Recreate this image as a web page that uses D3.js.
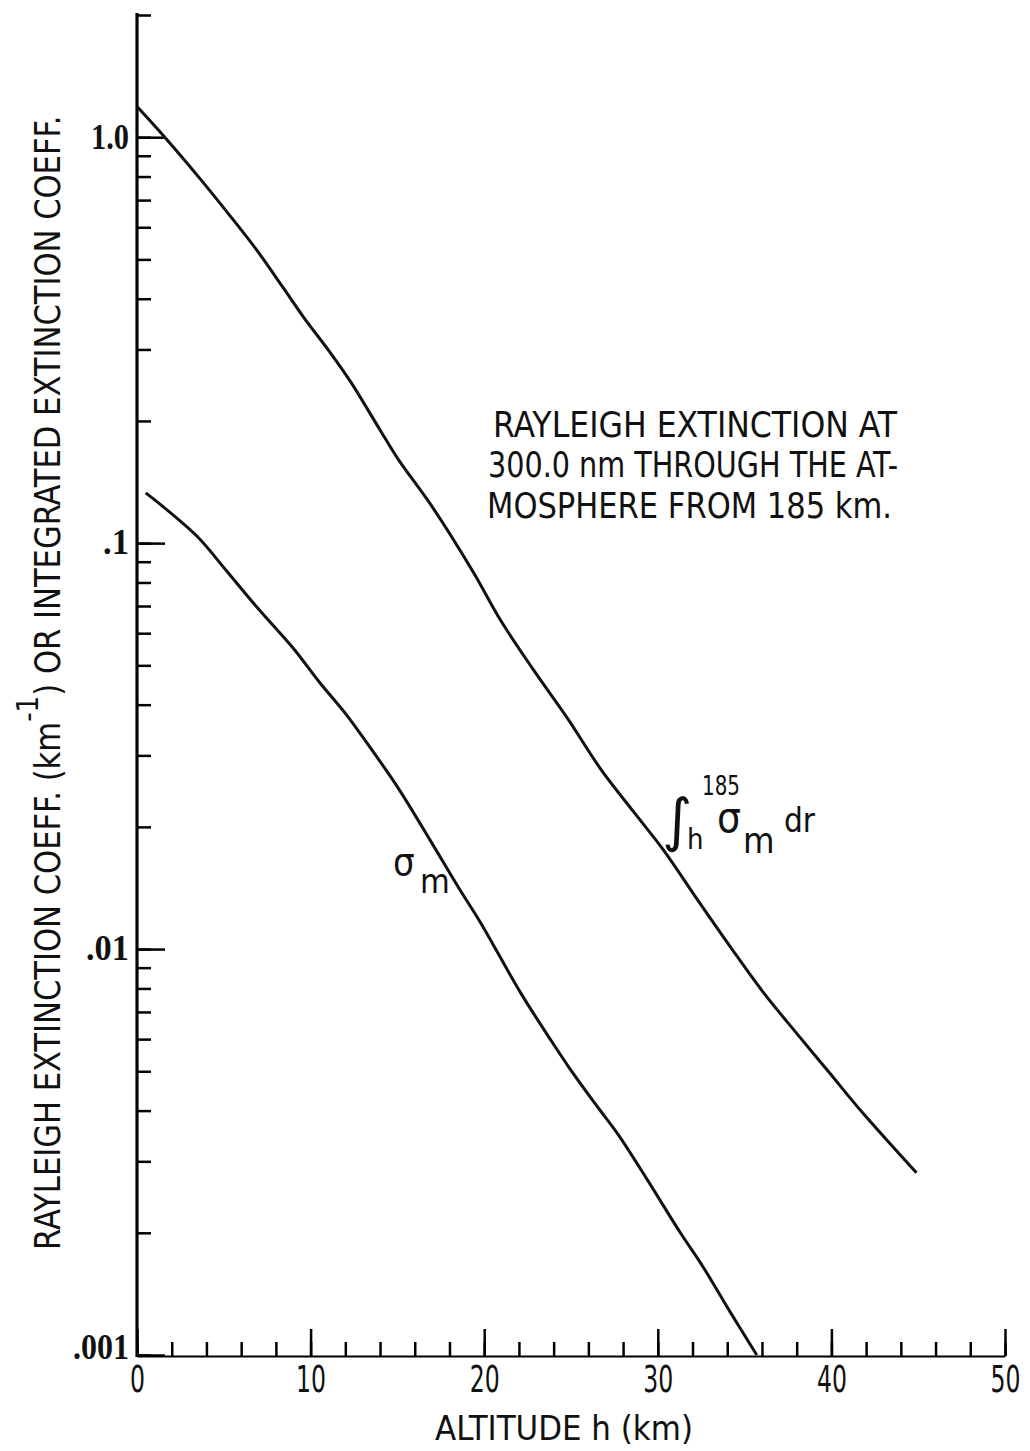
<!DOCTYPE html>
<html>
<head>
<meta charset="utf-8">
<script src="https://cdn.jsdelivr.net/npm/d3@7"></script>
<style>
body { margin: 0; background: #fff; }
text { font-family: "Liberation Sans Narrow", "DejaVu Sans Condensed", "Roboto Condensed", sans-serif; fill: #111; }
</style>
</head>
<body>
<svg width="1030" height="1451"></svg>
<script>
// integrated extinction coeff (upper curve)
var integralAlt = [0, 1.6, 3.7, 5.2, 6.9, 8.4, 9.6, 11.1, 12.3, 14.0, 15.0, 17.0, 19.4, 20.9, 22.8, 24.8, 26.7, 28.6, 30.3, 32.3, 34.2, 36.1, 38.0, 39.9, 41.8, 44.9];
var integralVal = [1.19, 1.0, 0.784, 0.653, 0.527, 0.427, 0.360, 0.296, 0.250, 0.190, 0.162, 0.123, 0.0844, 0.0650, 0.0490, 0.0370, 0.0278, 0.0218, 0.0176, 0.0132, 0.0101, 0.0078, 0.0062, 0.00495, 0.00395, 0.00281];

// rayleigh extinction coeff sigma_m (lower curve)
var sigmaAlt = [0.5, 1.5, 3.5, 5.2, 6.9, 9.0, 10.5, 12.1, 13.0, 15.0, 16.9, 18.6, 19.8, 22.1, 23.8, 24.9, 26.5, 27.7, 29.4, 31.3, 32.6, 34.2, 35.7];
var sigmaVal = [0.133, 0.123, 0.1035, 0.085, 0.0696, 0.0551, 0.0455, 0.0376, 0.0333, 0.0251, 0.0185, 0.0140, 0.0116, 0.0078, 0.0060, 0.0051, 0.0041, 0.00350, 0.0027, 0.0020, 0.00165, 0.00127, 0.001];

var yMajor = [1, 0.1, 0.01, 0.001];
var yTickLabels = ['1.0', '.1', '.01', '.001'];
var xMajor = [0, 10, 20, 30, 40, 50];
var noteLines = ['RAYLEIGH EXTINCTION AT', '300.0 nm THROUGH THE AT-', 'MOSPHERE FROM 185 km.'];

var svg = d3.select('svg');
var x = d3.scaleLinear().domain([0, 50]).range([137, 1005]);
var y = d3.scaleLog().domain([0.001, 2]).range([1355, 15]);

// y axis: minor ticks inside, longer decade ticks
var yMinor = d3.axisRight(y).tickValues(y.ticks()).tickSize(14).tickSizeOuter(0).tickFormat('');
var gy = svg.append('g').attr('transform', 'translate(137,0)').call(yMinor);
gy.select('.domain').attr('stroke-width', 3.2).attr('d', 'M0,13V1357');
gy.selectAll('.tick line').attr('stroke-width', 2.5);

var gyMaj = svg.append('g').attr('transform', 'translate(137,0)')
    .call(d3.axisRight(y).tickValues(yMajor).tickSize(28).tickFormat(''));
gyMaj.select('.domain').remove();
gyMaj.selectAll('.tick line').attr('stroke-width', 2.5);

var gyLab = svg.append('g').attr('transform', 'translate(137,0)')
    .call(d3.axisLeft(y).tickValues(yMajor).tickSize(0).tickPadding(8).tickFormat((d, i) => yTickLabels[i]));
gyLab.select('.domain').remove();
gyLab.selectAll('text')
    .style('font-family', '"Liberation Serif", "DejaVu Serif", serif')
    .style('font-size', '36px').style('font-weight', 'bold').attr('dy', (d, i) => i == 3 ? '0.1em' : '0.3em')
    .attr('textLength', (d, i) => [38, 26, 43, 56][i]).attr('lengthAdjust', 'spacingAndGlyphs');

// x axis: ticks pointing up
var gx = svg.append('g').attr('transform', 'translate(0,1356)')
    .call(d3.axisTop(x).ticks(25).tickSize(14).tickSizeOuter(0).tickFormat(''));
gx.select('.domain').attr('stroke-width', 2.2);
gx.selectAll('.tick line').attr('stroke-width', 2.5);

var gxMaj = svg.append('g').attr('transform', 'translate(0,1356)')
    .call(d3.axisTop(x).tickValues(xMajor).tickSize(27).tickFormat(''));
gxMaj.select('.domain').remove();
gxMaj.selectAll('.tick line').attr('stroke-width', 2.5);

var gxLab = svg.append('g').attr('transform', 'translate(0,1356)')
    .call(d3.axisBottom(x).tickValues(xMajor).tickSize(0).tickPadding(9).tickFormat(d3.format('d')));
gxLab.select('.domain').remove();
gxLab.selectAll('text').style('font-family', null).style('font-size', '38px')
    .attr('textLength', d => String(d).length * 15).attr('lengthAdjust', 'spacingAndGlyphs');

// curves
var line = d3.line().x(d => x(d[0])).y(d => y(d[1])).curve(d3.curveCatmullRom.alpha(0.5));
var integral = d3.zip(integralAlt, integralVal);
var sigma = d3.zip(sigmaAlt, sigmaVal);
[integral, sigma].forEach(function(series) {
    svg.append('path').datum(series)
        .attr('d', line)
        .attr('fill', 'none')
        .attr('stroke', '#111')
        .attr('stroke-width', 3)
        .attr('stroke-linejoin', 'round');
});

// axis titles
svg.append('text')
    .attr('x', 435).attr('y', 1440)
    .attr('textLength', 258).attr('lengthAdjust', 'spacingAndGlyphs')
    .style('font-size', '34px')
    .text('ALTITUDE h (km)');

var yt = svg.append('text').style('font-size', '35px');
yt.append('tspan').text('RAYLEIGH EXTINCTION COEFF. (km');
yt.append('tspan').attr('dy', -22).style('font-size', '30px').text('-1');
yt.append('tspan').attr('dy', 22).text(') OR INTEGRATED EXTINCTION COEFF.');
var ytLen = yt.node().getComputedTextLength();
yt.attr('transform', 'translate(60,1250) rotate(-90) scale(' + (1135 / ytLen) + ',1)');

// note block
var noteX = [493, 488, 487];
var noteW = [404, 410, 405];
var noteY = [437, 477, 518];
noteLines.forEach(function(t, i) {
    svg.append('text')
        .attr('x', noteX[i]).attr('y', noteY[i])
        .attr('textLength', noteW[i]).attr('lengthAdjust', 'spacingAndGlyphs')
        .style('font-size', '35px')
        .text(t);
});

// curve labels
var lab = svg.append('g');
lab.append('text').attr('x', 662).attr('y', 840)
    .style('font-family', '"DejaVu Sans", sans-serif').style('font-size', '58px').text('\u222B');
lab.append('text').attr('x', 702).attr('y', 795).style('font-size', '27px')
    .attr('textLength', 38).attr('lengthAdjust', 'spacingAndGlyphs').text('185');
lab.append('text').attr('x', 687).attr('y', 849).style('font-size', '29px').text('h');
lab.append('text').attr('x', 717).attr('y', 832).style('font-size', '42px').text('\u03C3');
lab.append('text').attr('x', 743).attr('y', 853).style('font-size', '36px').text('m');
lab.append('text').attr('x', 784).attr('y', 832).style('font-size', '33px').text('dr');

lab.append('text').attr('x', 393).attr('y', 875).style('font-size', '38px').text('\u03C3');
lab.append('text').attr('x', 420).attr('y', 893).style('font-size', '34px').text('m');
</script>
</body>
</html>
